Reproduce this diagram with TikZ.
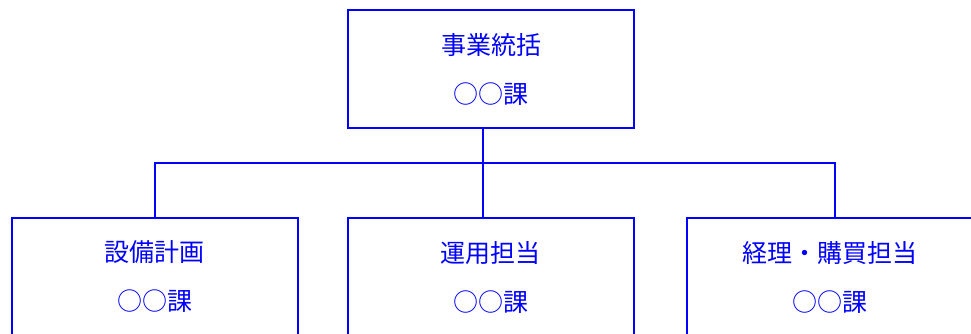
\documentclass[tikz,border=0pt]{standalone}
\usepackage{fontspec}
\newfontfamily\jp{Noto Sans CJK JP}
\begin{document}
\begin{tikzpicture}[x=1pt,y=-1pt,
  box/.style={draw=blue, line width=2pt, minimum width=286pt, minimum height=118pt,
    inner sep=0pt, align=center, text=blue, font=\jp\fontsize{25}{49}\selectfont},
  conn/.style={draw=blue, line width=2pt}]
\useasboundingbox (0,0) rectangle (971,334);
\clip (0,0) rectangle (971,334);
\node[box] (top) at (491,69) {事業統括\\○○課};
\node[box] (left) at (154.5,277) {設備計画\\○○課};
\node[box] (mid) at (490.5,277) {運用担当\\○○課};
\node[box] (right) at (829.5,277) {経理・購買担当\\○○課};
\coordinate (jm) at (483,163);
\coordinate (jl) at (155,163);
\coordinate (jr) at (835,163);
\draw[conn] (top.south -| jm) -- (mid.north -| jm);
\draw[conn] (left.north -| jl) -- (jl) -- (jr) -- (right.north -| jr);
\end{tikzpicture}
\end{document}
